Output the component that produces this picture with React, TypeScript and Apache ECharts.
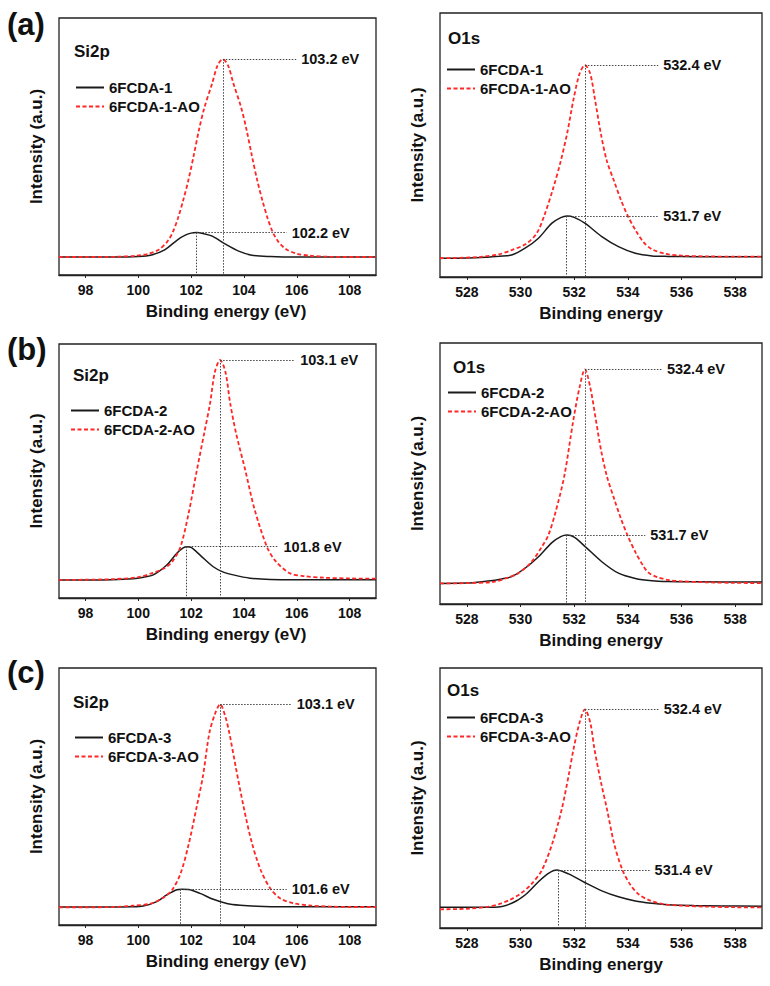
import React, { useEffect, useRef } from 'react';
import * as echarts from 'echarts';

// ---------- data ----------
const siTicks = [98, 100, 102, 104, 106, 108];
const oTicks = [528, 530, 532, 534, 536, 538];
const siRange = [97, 109];
const oRange = [527, 539];

const panelLetters = ['(a)', '(b)', '(c)'];
const sampleNames = ['6FCDA-1', '6FCDA-2', '6FCDA-3'];
const siTitle = 'Si2p';
const oTitle = 'O1s';

// Si2p (a)
const siA_black = [[97,7.0],[98,7.0],[99,7.0],[100,7.2],[100.5,7.8],[101,9.8],[101.5,13.8],[101.8,15.6],[102.0,16.3],[102.2,16.5],[102.5,16.0],[102.8,15.1],[103.3,12.0],[103.8,9.3],[104.3,7.7],[105,7.2],[106,7.0],[107,7.0],[108,7.0],[109,7.0]];
const siA_red = [[97,7.0],[98,7.0],[99.2,7.1],[99.9,7.5],[100.4,8.3],[100.8,10],[101.1,13],[101.3,16.5],[101.5,22],[101.7,29],[101.9,37],[102.1,46.5],[102.3,56.5],[102.5,65],[102.8,74.6],[103.0,81.5],[103.2,84],[103.4,81.5],[103.6,74.6],[103.9,65],[104.1,56.5],[104.3,46.5],[104.5,37],[104.7,29],[104.9,22],[105.1,16.5],[105.3,13],[105.6,10],[106.0,8.3],[106.5,7.5],[107.2,7.1],[108,7.0],[109,7.0]];
// O1s (a)
const oA_black = [[527,7.1],[528,7.2],[528.7,7.5],[529.2,7.9],[529.67,8.3],[530.17,10.9],[530.67,14.7],[531.16,20.3],[531.5,22.5],[531.73,23.1],[532.0,22.6],[532.41,20.3],[533.03,15.3],[533.65,11.5],[534.28,9.0],[534.9,8.0],[535.5,7.8],[536.5,7.7],[539,7.7]];
const oA_red = [[527,7.1],[527.5,7.2],[528.5,7.6],[529.2,8.6],[529.67,10.2],[530.2,12.5],[530.6,16.5],[530.88,23.1],[531.2,33],[531.5,43.9],[531.75,55],[531.97,67],[532.2,77],[532.4,80.3],[532.6,77],[532.78,67],[533.0,54],[533.22,43.9],[533.5,36],[533.75,29],[534.0,23.1],[534.3,17.5],[534.6,13],[534.9,10.5],[535.4,8.8],[536,8.1],[537,7.8],[538,7.7],[539,7.7]];
// Si2p (b)
const siB_black = [[97,7.1],[98,7.1],[99,7.2],[99.8,7.6],[100.2,8.2],[100.57,9.1],[101.08,13],[101.46,17.6],[101.7,19.7],[101.84,20.2],[102.0,19.9],[102.34,16.9],[102.84,12.3],[103.2,10.3],[103.6,9.1],[104.23,7.8],[105,7.3],[106,7.2],[107,7.2],[108,7.2],[109,7.2]];
const siB_red = [[97,7.1],[99,7.4],[100,8.2],[100.5,9.7],[101.0,11.8],[101.3,14.5],[101.6,20.2],[101.9,33],[102.22,50.4],[102.5,65],[102.72,76.7],[102.9,89],[103.1,93.7],[103.3,89],[103.48,76.7],[103.7,65],[104.05,50.4],[104.4,35],[104.87,20.2],[105.2,14.5],[105.75,9.7],[106.3,8.6],[107,8.0],[108,7.7],[109,7.6]];
// O1s (b)
const oB_black = [[527,7.9],[528,8.0],[528.8,8.8],[529.3,9.6],[529.67,10.5],[530.17,13.7],[530.67,18.1],[531.17,23.5],[531.5,25.8],[531.73,26.4],[532.0,25.6],[532.41,22],[533.03,16.2],[533.65,11.8],[534.28,9.8],[534.9,8.9],[535.5,8.6],[536.5,8.5],[539,8.4]];
const oB_red = [[527,7.9],[528,8.0],[529,8.5],[529.5,10],[529.92,11.8],[530.4,16],[530.8,22],[531.04,26.4],[531.3,35],[531.63,48.9],[531.97,70.5],[532.2,83],[532.4,89.9],[532.6,83],[532.81,70.5],[533.0,59],[533.22,48.9],[533.5,40],[533.75,32.5],[534.0,26],[534.3,19.5],[534.55,15],[534.77,12],[535.1,10.3],[535.5,9.2],[536,8.7],[537,8.3],[538,8.1],[539,8.0]];
// Si2p (c)
const siC_black = [[97,7.0],[98,7.0],[99,7.0],[99.7,7.1],[100.19,7.4],[100.7,9.1],[101.08,11.7],[101.46,13.7],[101.65,13.9],[101.9,13.8],[102.34,12.3],[102.84,10.0],[103.35,8.4],[103.86,7.7],[104.5,7.3],[105.5,7.1],[107,7.1],[109,7.1]];
const siC_red = [[97,6.9],[98,6.9],[99,7.0],[99.8,7.5],[100.5,8.4],[101.0,11],[101.3,13.9],[101.6,20],[101.9,31],[102.22,46.4],[102.45,58],[102.69,74.6],[102.9,82],[103.1,85.9],[103.3,81],[103.45,74.6],[103.7,61],[103.98,46.4],[104.3,32],[104.65,21],[105.02,13.9],[105.4,10.2],[105.9,8.4],[106.5,7.6],[107.2,7.2],[108,7.0],[109,7.0]];
// O1s (c)
const oC_black = [[527,8.0],[528,8.0],[529.05,8.0],[529.67,9.5],[530.17,12.7],[530.67,17.8],[531.04,21],[531.35,22.3],[531.79,20.8],[532.41,17.4],[533.03,14.3],[533.65,12],[534.28,10.4],[534.9,9.5],[535.5,8.9],[536.5,8.6],[537.5,8.5],[539,8.4]];
const oC_red = [[527,7.2],[528,7.4],[528.8,8.2],[529.2,9.2],[529.6,10.8],[530.0,13.2],[530.4,16.8],[530.8,22.3],[531.2,33],[531.54,45.8],[531.8,59],[531.97,68.5],[532.2,79],[532.4,84.1],[532.6,79],[532.76,68.5],[533.0,56],[533.22,45.8],[533.5,32],[533.8,22.3],[534.1,16.5],[534.4,13],[534.77,10.8],[535.3,9.2],[536,8.6],[537,8.2],[538,8.0],[539,7.9]];

// peak energies (black, red) per panel: aL, aR, bL, bR, cL, cR
const peakBlack = [102.2, 531.7, 101.8, 531.7, 101.6, 531.4];
const peakRed = [103.2, 532.4, 103.1, 532.4, 103.1, 532.4];
// where the dotted leader lines end (x, in eV)
const leaderEndBlack = [105.62, 535.13, 105.31, 534.65, 105.62, 534.81];
const leaderEndRed = [105.98, 535.13, 105.94, 535.27, 105.81, 535.15];

// ---------- layout ----------
const FONT = '"Liberation Sans", Arial, Helvetica, sans-serif';
const gridBoxes = [
  { left: 59, top: 18, width: 317, height: 257 },
  { left: 440, top: 13, width: 322, height: 264 },
  { left: 59, top: 344, width: 317, height: 254 },
  { left: 440, top: 343, width: 322, height: 261 },
  { left: 59, top: 668, width: 317, height: 257 },
  { left: 440, top: 668, width: 322, height: 260 },
];
const legendPos = [
  { left: 70, top: 75 },
  { left: 441, top: 57 },
  { left: 65, top: 398 },
  { left: 442, top: 380 },
  { left: 69, top: 725 },
  { left: 441, top: 705 },
];
const titlePos = [
  { x: 74, y: 51 },
  { x: 448, y: 38 },
  { x: 73, y: 375 },
  { x: 453, y: 367 },
  { x: 73, y: 702 },
  { x: 447, y: 690 },
];
const letterPos = [
  { x: 7, y: 24 },
  { x: 7, y: 349 },
  { x: 7, y: 672 },
];

const BLACK = '#1a1a1a';
const RED = '#ff2626';

export default function App() {
  const ref = useRef<HTMLDivElement>(null);

  useEffect(() => {
    if (!ref.current) return;
    const chart = echarts.init(ref.current, undefined, { renderer: 'svg' });

    const blackData = [siA_black, oA_black, siB_black, oB_black, siC_black, oC_black];
    const redData = [siA_red, oA_red, siB_red, oB_red, siC_red, oC_red];

    const grids: any[] = [];
    const xAxes: any[] = [];
    const yAxes: any[] = [];
    const series: any[] = [];
    const legends: any[] = [];
    const graphics: any[] = [];

    const maxY = (d: number[][]) => Math.max(...d.map((p) => p[1]));

    for (let i = 0; i < 6; i++) {
      const isSi = i % 2 === 0;
      const row = Math.floor(i / 2);
      const sample = sampleNames[row];
      const range = isSi ? siRange : oRange;
      const ticks = isSi ? siTicks : oTicks;
      grids.push({
        ...gridBoxes[i],
        show: true,
        borderColor: '#222',
        borderWidth: 1.3,
        backgroundColor: 'transparent',
      });
      xAxes.push({
        type: 'value',
        gridIndex: i,
        min: range[0],
        max: range[1],
        axisLine: { show: true, lineStyle: { color: '#222', width: 1.3 } },
        axisTick: { show: true, length: 3, lineStyle: { color: '#222' }, customValues: ticks },
        axisLabel: {
          customValues: ticks,
          color: '#111',
          fontSize: 14,
          fontWeight: 'bold',
          fontFamily: FONT,
          margin: 8,
        },
        splitLine: { show: false },
        name: isSi ? 'Binding energy (eV)' : 'Binding energy',
        nameLocation: 'middle',
        nameGap: 28,
        nameTextStyle: {
          color: '#111',
          fontSize: 17,
          fontWeight: 'bold',
          fontFamily: FONT,
          padding: isSi ? [0, 0, 0, 17] : 0,
        },
      });
      yAxes.push({
        type: 'value',
        gridIndex: i,
        min: 0,
        max: 100,
        axisLine: { show: false },
        axisTick: { show: false },
        axisLabel: { show: false },
        splitLine: { show: false },
        name: 'Intensity (a.u.)',
        nameLocation: 'middle',
        nameGap: 14,
        nameTextStyle: { color: '#111', fontSize: 17, fontWeight: 'bold', fontFamily: FONT },
      });

      const mkLeader = (px: number, py: number, endX: number, text: string) => ({
        silent: true,
        symbol: ['none', 'none'],
        animation: false,
        lineStyle: { color: '#444', width: 1, type: [1.5, 1.5] },
        label: { show: false },
        emphasis: { disabled: true },
        data: [
          [
            {
              coord: [px, py],
              label: {
                show: true,
                position: 'end',
                formatter: text,
                distance: 5,
                color: '#111',
                fontSize: 14.5,
                fontWeight: 'bold',
                fontFamily: FONT,
              },
            },
            { coord: [endX, py] },
          ],
          [{ coord: [px, py] }, { coord: [px, 0] }],
        ],
      });

      const bY = maxY(blackData[i]);
      const rY = maxY(redData[i]);
      series.push({
        type: 'line',
        name: sample,
        xAxisIndex: i,
        yAxisIndex: i,
        data: blackData[i],
        symbol: 'none',
        smooth: 0.3,
        lineStyle: { color: BLACK, width: 1.5 },
        itemStyle: { color: BLACK },
        z: 3,
        markLine: mkLeader(peakBlack[i], bY, leaderEndBlack[i], `${peakBlack[i].toFixed(1)} eV`),
      });
      series.push({
        type: 'line',
        name: `${sample}-AO`,
        xAxisIndex: i,
        yAxisIndex: i,
        data: redData[i],
        symbol: 'none',
        smooth: 0.3,
        lineStyle: { color: RED, width: 1.8, type: [4, 2.5] },
        itemStyle: { color: RED },
        z: 4,
        markLine: mkLeader(peakRed[i], rY, leaderEndRed[i], `${peakRed[i].toFixed(1)} eV`),
      });

      legends.push({
        ...legendPos[i],
        orient: 'vertical',
        itemWidth: 28,
        itemHeight: 10,
        itemGap: 4,
        selectedMode: false,
        itemStyle: { color: 'transparent', borderWidth: 0, opacity: 0 },
        data: [sample, `${sample}-AO`],
        textStyle: { color: '#111', fontSize: 15, fontWeight: 'bold', fontFamily: FONT },
      });

      graphics.push({
        type: 'text',
        x: titlePos[i].x,
        y: titlePos[i].y,
        style: {
          text: isSi ? siTitle : oTitle,
          fill: '#111',
          font: `bold 17px ${FONT}`,
          verticalAlign: 'middle',
        },
      });
    }

    for (let r = 0; r < 3; r++) {
      graphics.push({
        type: 'text',
        x: letterPos[r].x,
        y: letterPos[r].y,
        style: {
          text: panelLetters[r],
          fill: '#111',
          font: `bold 31px ${FONT}`,
          verticalAlign: 'middle',
        },
      });
    }

    chart.setOption({
      animation: false,
      backgroundColor: '#fff',
      grid: grids,
      xAxis: xAxes,
      yAxis: yAxes,
      series,
      legend: legends,
      graphic: graphics,
    });

    return () => chart.dispose();
  }, []);

  return (
    <div
      ref={ref}
      style={{ position: 'absolute', left: 0, top: 0, width: 770, height: 986 }}
    />
  );
}
